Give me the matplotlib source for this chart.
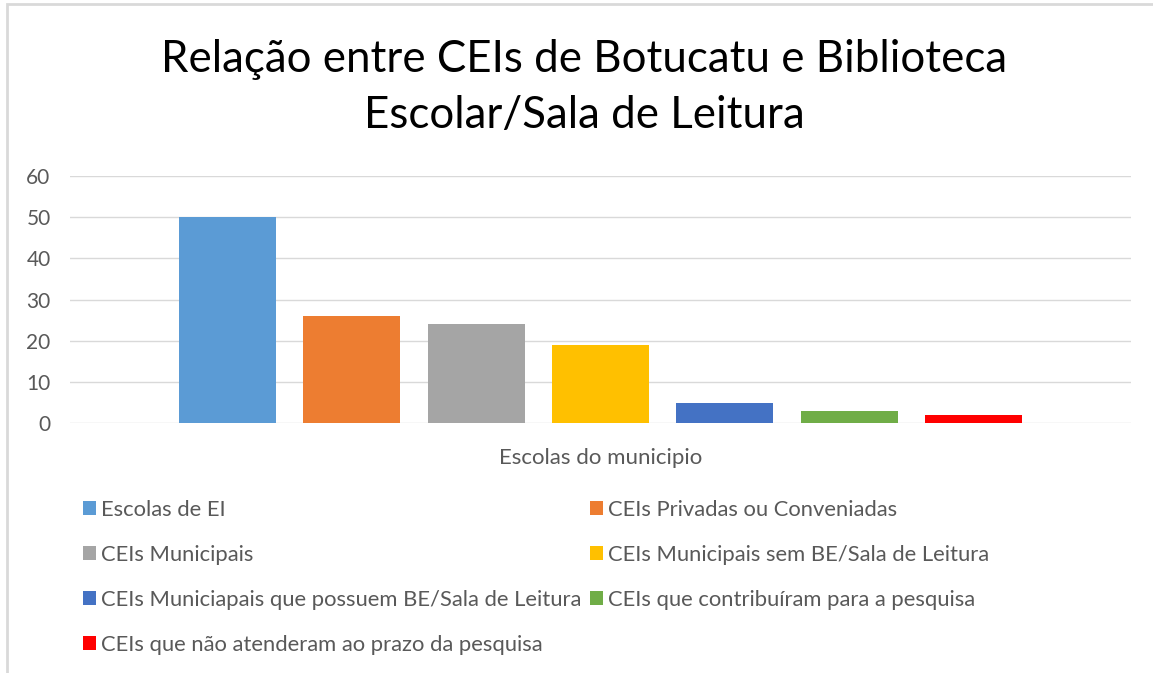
# Relação entre CEIs de Botucatu e Biblioteca Escolar/Sala de Leitura
import numpy as np
import matplotlib.pyplot as plt
from matplotlib.patches import Rectangle, Patch

plt.rcParams["font.family"] = ["Lato", "DejaVu Sans"]

categoria = "Escolas do municipio"
series = [
    "Escolas de EI",
    "CEIs Privadas ou Conveniadas",
    "CEIs Municipais",
    "CEIs Municipais sem BE/Sala de Leitura",
    "CEIs Municiapais que possuem BE/Sala de Leitura",
    "CEIs que contribuíram para a pesquisa",
    "CEIs que não atenderam ao prazo da pesquisa",
]
valores = [50, 26, 24, 19, 5, 3, 2]
cores = ["#5B9BD5", "#ED7D31", "#A5A5A5", "#FFC000", "#4472C4", "#70AD47", "#FF0000"]
y_ticks = [0, 10, 20, 30, 40, 50, 60]

W, H = 1153, 673
fig = plt.figure(figsize=(W / 100, H / 100), dpi=100)

# moldura cinza (só topo e esquerda visíveis)
fig.patches.append(Rectangle((7 / W, -0.1), 1.2, 1.1 - 4 / H, transform=fig.transFigure,
                             fill=False, ec="#D9D9D9", lw=2))

ax = fig.add_axes([70 / W, 1 - 423.3 / H, (1131 - 70) / W, (423.3 - 176) / H])

n = len(series)
passo = 0.1172
larg = 0.0914
offs = (np.arange(n) - (n - 1) / 2) * passo
handles = []
for i in range(n):
    ax.bar(offs[i], valores[i], width=larg, color=cores[i], zorder=2)
    handles.append(Patch(facecolor=cores[i], label=series[i]))

ax.set_xlim(-0.5, 0.5)
ax.set_ylim(0, 60)
ax.set_yticks(y_ticks)
ax.set_xticks([])
ax.grid(axis="y", color="#D9D9D9", lw=1, zorder=0)
for s in ["top", "right", "left", "bottom"]:
    ax.spines[s].set_visible(False)
ax.tick_params(axis="y", length=0, pad=14, labelsize=15, labelcolor="#595959")
ax.set_xlabel(categoria, fontsize=16, color="#595959", labelpad=18)

fig.text(584 / W, 1 - 60 / H, "Relação entre CEIs de Botucatu e Biblioteca",
         ha="center", va="center", fontsize=31.6, color="#000000")
fig.text(584 / W, 1 - 115 / H, "Escolar/Sala de Leitura",
         ha="center", va="center", fontsize=31.6, color="#000000")

# legenda em 2 colunas, lida por linha (como no Excel)
ordem = [0, 2, 4, 6, 1, 3, 5]
fig.legend([handles[k] for k in ordem], [series[k] for k in ordem], ncol=2,
           loc="upper left", bbox_to_anchor=(74 / W, 1 - 491 / H), frameon=False,
           fontsize=15.8, labelcolor="#595959", handlelength=0.6, handleheight=0.6,
           handletextpad=0.22, labelspacing=1.14, columnspacing=0.4, borderaxespad=0)

fig.savefig("out.png", dpi=100)
